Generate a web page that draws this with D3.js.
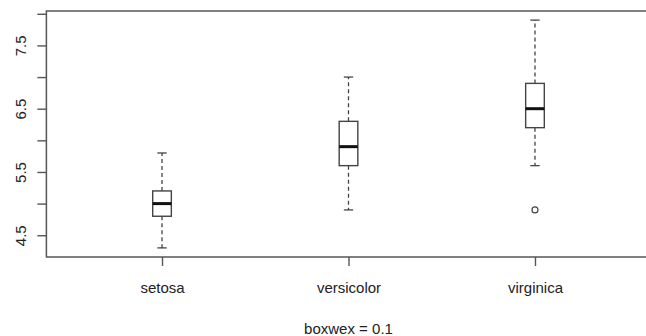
<!DOCTYPE html>
<html>
<head>
<meta charset="utf-8">
<script src="https://cdn.jsdelivr.net/npm/d3@7"></script>
<style>
  html, body { margin: 0; padding: 0; background: #fff; overflow: hidden; }
  svg { display: block; }
  text { font-family: "Liberation Sans", Arial, sans-serif; fill: #222; }
</style>
</head>
<body>
<svg id="chart" width="646" height="336"></svg>
<script>
// Iris Sepal.Length by Species
const categories = ["setosa", "versicolor", "virginica"];
const lowerWhisker = [4.3, 4.9, 5.6];
const q1 = [4.8, 5.6, 6.2];
const median = [5.0, 5.9, 6.5];
const q3 = [5.2, 6.3, 6.9];
const upperWhisker = [5.8, 7.0, 7.9];
const outliers = [[], [], [4.9]];
const yTicks = [4.5, 5.0, 5.5, 6.0, 6.5, 7.0, 7.5, 8.0];
const yLabels = ["4.5", "5.5", "6.5", "7.5"];
const subtitle = "boxwex = 0.1";
const boxwex = 0.1;

(function () {
const svg = d3.select("#chart");
const pL = 46.4, pR = 650.6, pT = 11, pB = 257;
const lineCol = "#444";

const dataMin = 4.3, dataMax = 7.9;
const ext = (dataMax - dataMin) * 0.04;
const y = d3.scaleLinear().domain([dataMin - ext, dataMax + ext]).range([pB, pT]);
const xext = (3.5 - 0.5) * 0.04;
const x = d3.scaleLinear().domain([0.5 - xext, 3.5 + xext]).range([pL, pR]);

const g = svg.append("g");
categories.forEach((c, i) => {
  const cx = x(i + 1);
  const hw = (x(1 + boxwex / 2) - x(1));
  const sw = hw / 2;
  g.append("line").attr("x1", cx).attr("x2", cx)
    .attr("y1", y(q3[i])).attr("y2", y(upperWhisker[i]))
    .attr("stroke", lineCol).attr("stroke-width", 1.3).attr("stroke-dasharray", "4,3");
  g.append("line").attr("x1", cx).attr("x2", cx)
    .attr("y1", y(q1[i])).attr("y2", y(lowerWhisker[i]))
    .attr("stroke", lineCol).attr("stroke-width", 1.3).attr("stroke-dasharray", "4,3");
  [lowerWhisker[i], upperWhisker[i]].forEach(v => {
    g.append("line").attr("x1", cx - sw).attr("x2", cx + sw)
      .attr("y1", y(v)).attr("y2", y(v))
      .attr("stroke", lineCol).attr("stroke-width", 1.3);
  });
  g.append("rect").attr("x", cx - hw).attr("width", 2 * hw)
    .attr("y", y(q3[i])).attr("height", y(q1[i]) - y(q3[i]))
    .attr("fill", "none").attr("stroke", lineCol).attr("stroke-width", 1.4);
  g.append("line").attr("x1", cx - hw).attr("x2", cx + hw)
    .attr("y1", y(median[i])).attr("y2", y(median[i]))
    .attr("stroke", "#111").attr("stroke-width", 3);
  outliers[i].forEach(v => {
    g.append("circle").attr("cx", cx).attr("cy", y(v)).attr("r", 3)
      .attr("fill", "none").attr("stroke", lineCol).attr("stroke-width", 1.2);
  });
});

// frame (right side falls outside the 646px window)
svg.append("path")
  .attr("d", `M${pR},${pT}H${pL}V${pB}H${pR}`)
  .attr("fill", "none").attr("stroke", "#555").attr("stroke-width", 1.5);

const yAxis = d3.axisLeft(y).tickValues(yTicks).tickSize(9).tickPadding(0)
  .tickFormat(d => { const s = d3.format(".1f")(d); return yLabels.includes(s) ? s : ""; });
const ya = svg.append("g").attr("transform", `translate(${pL},0)`).call(yAxis);
ya.select(".domain").remove();
ya.selectAll(".tick line").attr("stroke", "#555").attr("stroke-width", 1.4);
ya.selectAll(".tick text")
  .attr("x", null).attr("dy", null)
  .attr("transform", "translate(-26,0) rotate(-90)")
  .attr("text-anchor", "middle").attr("dominant-baseline", "central")
  .style("font-size", "15px").style("font-family", "'Liberation Sans', Arial, sans-serif").attr("fill", "#222");

const xAxis = d3.axisBottom(x).tickValues([1, 2, 3]).tickSize(9).tickPadding(0)
  .tickFormat((d, i) => categories[i]);
const xa = svg.append("g").attr("transform", `translate(0,${pB})`).call(xAxis);
xa.select(".domain").remove();
xa.selectAll(".tick line").attr("stroke", "#555").attr("stroke-width", 1.4);
xa.selectAll(".tick text").attr("y", 36).attr("dy", null)
  .style("font-size", "15px").style("font-family", "'Liberation Sans', Arial, sans-serif").attr("fill", "#222");

svg.append("text").attr("x", x(2)).attr("y", 334).attr("text-anchor", "middle")
  .style("font-size", "15px").text(subtitle);
})();
</script>
</body>
</html>
